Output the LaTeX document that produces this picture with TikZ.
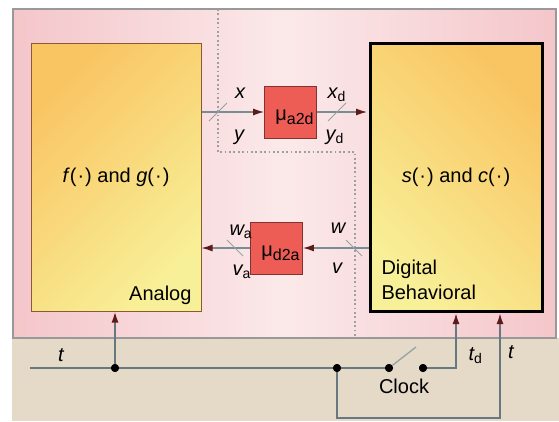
\documentclass[tikz,border=0pt]{standalone}
\usepackage{fontspec}
\setmainfont{Liberation Sans}
\usepackage{tikz}
\usetikzlibrary{
    positioning,
    arrows.meta
}
\definecolor{rosa}{RGB}{244,198,202}
\definecolor{rosaclaro}{RGB}{251,233,234}
\definecolor{beige}{RGB}{229,217,199}
\definecolor{naranja}{RGB}{249,196,98}
\definecolor{amarillo}{RGB}{248,240,152}
\definecolor{marron}{RGB}{140,90,50}
\definecolor{rojo}{RGB}{238,92,86}
\definecolor{linea}{RGB}{122,140,148}
\definecolor{cable}{RGB}{104,120,128}
\definecolor{punta}{RGB}{92,26,26}
\newcommand{\musub}[1]{\hspace*{8pt}μ\raisebox{-4.5pt}{\fontsize{16}{16}\selectfont #1}}
\tikzset{
    >={Latex[length=11pt,width=7pt,color=punta]},
    bloque/.style={
        rectangle,
        minimum width=170pt,
        minimum height=268pt,
        inner sep=0pt
    },
    conv/.style={
        rectangle,
        draw=rojo!55!black,
        fill=rojo,
        line width=0.8pt,
        minimum size=52pt,
        inner sep=0pt,
        text height=20pt,
        text depth=4pt
    },
    flecha/.style={
        draw=linea,
        line width=1.3pt,
        ->
    },
    cableado/.style={
        draw=cable,
        line width=1.8pt
    },
    corte/.style={
        draw=linea!80!white,
        line width=1pt
    },
    frontera/.style={
        draw=gray!75,
        line width=1.8pt,
        dash pattern=on 1.8pt off 2.6pt
    },
    punto/.style={
        circle,
        fill=black,
        minimum size=8pt,
        inner sep=0pt
    },
    etiqueta/.style={
        font=\fontsize{20}{24}\selectfont\itshape
    }
}

\begin{document}
\begin{tikzpicture}[
    x=1pt,
    y=-1pt,
    font=\fontsize{20}{25}\selectfont
]
    \useasboundingbox (0,0) rectangle (559,421);

    % Fondo
    \fill[beige] (12,338) rectangle (559,421);
    \shade[left color=rosa, right color=rosa, middle color=rosaclaro]
        (13,9) rectangle (556,338);
    \draw[gray!80, line width=2.5pt] (13,9) rectangle (556,338);

    % Frontera analogico / digital
    \draw[frontera] (218,9) |- (355,152) -- (355,338);

    % Bloques
    \node[bloque, draw=marron, line width=1pt,
          top color=naranja, bottom color=amarillo, shading angle=45]
        (analog) at (116,177) {\textit{f}(\kern1pt·\kern1pt) and \textit{g}(\kern1pt·\kern1pt)};
    \node[bloque, draw=black, line width=3pt, minimum width=172pt,
          top color=naranja, bottom color=amarillo, shading angle=-45]
        (digital) at (456,177.5) {\textit{s}(\kern1pt·\kern1pt) and \textit{c}(\kern1pt·\kern1pt)};

    \node[anchor=base east] (lanalog) at (195,300) {Analog};
    \node[anchor=base west, align=left] (ldigital) at (378,299) {Digital\\Behavioral};

    % Convertidores
    \node[conv] (a2d) at (290.5,112) {\musub{a2d}};
    \node[conv] (d2a) at (276.5,248) {\musub{d2a}};

    % Conexiones entre bloques
    \draw[flecha] (analog.east |- a2d.west) -- (a2d.west);
    \draw[flecha, shorten >=1.5pt] (a2d.east) -- (a2d.east -| digital.west);
    \draw[flecha] (digital.west |- d2a.east) -- (d2a.east);
    \draw[flecha] (d2a.west) -- (d2a.west -| analog.east);

    % Marcas de bus
    \coordinate (c1) at (218,112);
    \coordinate (c2) at (337,112);
    \coordinate (c3) at (235,248);
    \coordinate (c4) at (354,248);
    \draw[corte] (c1) ++(-9,9) -- ++(18,-18);
    \draw[corte] (c2) ++(-9,9) -- ++(18,-18);
    \draw[corte] (c3) ++(-8,-8) -- ++(16,16);
    \draw[corte] (c4) ++(-8,-8) -- ++(16,16);

    % Etiquetas
    \node[etiqueta, anchor=base] (lx) at (240,98) {x};
    \node[etiqueta, anchor=base] (ly) at (239,140) {y};
    \node[etiqueta, anchor=base west] (lxd) at (324,98) {x\textsubscript{\upshape d}};
    \node[etiqueta, anchor=base west] (lyd) at (322,140) {y\textsubscript{\upshape d}};
    \node[etiqueta, anchor=base west] (lwa) at (226,235) {w\textsubscript{\upshape a}};
    \node[etiqueta, anchor=base west] (lva) at (229,275) {v\textsubscript{\upshape a}};
    \node[etiqueta, anchor=base] (lw) at (338,233) {w};
    \node[etiqueta, anchor=base] (lv) at (337,273) {v};

    % Reloj
    \coordinate (ini) at (30,368);
    \node[punto] (j1) at (115,368) {};
    \node[punto] (j2) at (337,368) {};
    \node[punto] (s1) at (389,368) {};
    \node[punto] (s2) at (423,368) {};
    \coordinate (tb) at (500,418);

    \draw[cableado] (ini) -- (j1) -- (j2) -- (s1);
    \draw[cableado, ->] (j1) -- (j1 |- analog.south);
    \draw[cableado, ->] (s2) -| (digital.south);
    \draw[cableado, ->] (j2) |- (tb) -- (tb |- digital.south);
    \draw[corte, line width=1.3pt] (s1) -- ++(27,-21);

    \node[punto] at (j1) {};
    \node[punto] at (j2) {};
    \node[punto] at (s1) {};
    \node[punto] at (s2) {};

    \node[etiqueta, anchor=base] (lt) at (61,361) {t};
    \node[etiqueta, anchor=base west] (ltd) at (465,360) {t\textsubscript{\upshape d}};
    \node[etiqueta, anchor=base] (lt2) at (511,358) {t};
    \node[anchor=base] (lclock) at (404,393) {Clock};

\end{tikzpicture}
\end{document}
